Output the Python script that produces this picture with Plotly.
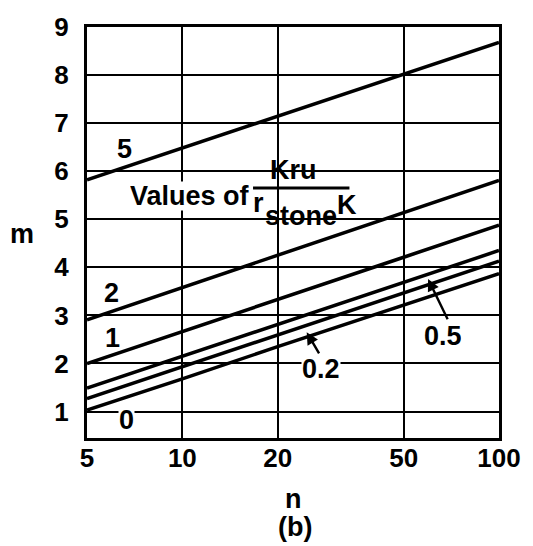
import math
import plotly.graph_objects as go

# ---- data ----
n_vals = [5, 10, 20, 50, 100]
m_k0 = [1.03, 1.68, 2.35, 3.22, 3.87]
m_k02 = [1.27, 1.93, 2.60, 3.47, 4.13]
m_k05 = [1.49, 2.15, 2.82, 3.69, 4.35]
m_k1 = [2.00, 2.66, 3.33, 4.21, 4.88]
m_k2 = [2.91, 3.58, 4.25, 5.13, 5.81]
m_k5 = [5.82, 6.48, 7.14, 8.02, 8.68]

x_ticks = [5, 10, 20, 50, 100]
x_tick_labels = ["5", "10", "20", "50", "100"]
y_ticks = [1, 2, 3, 4, 5, 6, 7, 8, 9]
y_tick_labels = ["1", "2", "3", "4", "5", "6", "7", "8", "9"]

series = [m_k0, m_k02, m_k05, m_k1, m_k2, m_k5]
curve_labels = ["0", "0.2", "0.5", "1", "2", "5"]
# label positions (n, m); True = label breaks a gridline
label_pos = {
    "5": (6.55, 6.47, False),
    "2": (5.97, 3.46, False),
    "1": (6.0, 2.52, False),
    "0": (6.68, 0.82, True),
    "0.2": (27.4, 1.89, True),
    "0.5": (66.4, 2.58, False),
}

FONT = "Liberation Sans, Arial, Helvetica, sans-serif"
fs = 26   # tick labels
fa = 27   # annotation text

fig = go.Figure()
for vals, lab in zip(series, curve_labels):
    fig.add_trace(go.Scatter(x=n_vals, y=vals, mode="lines",
                             line=dict(color="black", width=3.5),
                             name=lab, showlegend=False, hoverinfo="skip"))


def txt(x, y, s, bg=None, size=fa, pad=0, h=None):
    d = dict(x=x, y=y, xref="x", yref="y", text="<b>%s</b>" % s, showarrow=False,
             xanchor="center", yanchor="middle",
             font=dict(size=size, color="black", family=FONT), borderpad=pad)
    if bg:
        d["bgcolor"] = bg
    if h:
        d["height"] = h
    return d


ann = []
for lab, (nx, my, brk) in label_pos.items():
    ann.append(txt(math.log10(nx), my, lab, bg="white" if brk else None, h=22))

# arrows to 0.2 and 0.5 curves
arrows = [((24.7, 2.65), (27.2, 2.18)), ((59.7, 3.76), (69.2, 2.89))]
for (hx, hy), (tx, ty) in arrows:
    ann.append(dict(x=math.log10(hx), y=hy, ax=math.log10(tx), ay=ty,
                    xref="x", yref="y", axref="x", ayref="y", text="",
                    showarrow=True, arrowhead=2, arrowsize=1.0, arrowwidth=2.4,
                    arrowcolor="black"))

# "Values of  Kru / r_stone K"
ann.append(txt(1.024, 5.49, "Values of", bg="white", h=28))
ann.append(txt(1.352, 6.03, "Kru"))
ann.append(txt(1.240, 5.335, "r"))
ann.append(txt(1.375, 5.07, "stone"))
ann.append(txt(1.520, 5.30, "K"))

# axis titles
for xx, yy, s in [(-0.158, 0.497, "m"), (0.50, -0.148, "n"), (0.505, -0.216, "(b)")]:
    ann.append(dict(x=xx, y=yy, xref="paper", yref="paper", text="<b>%s</b>" % s,
                    xanchor="center", yanchor="middle", showarrow=False,
                    font=dict(size=fa, color="black", family=FONT)))

shapes = [
    # white patches behind the fraction block (cover gridlines, stay under curves)
    dict(type="rect", xref="paper", yref="paper", x0=0.434, x1=0.573, y0=0.618, y1=0.689,
         fillcolor="white", line=dict(width=0), layer="between"),
    dict(type="rect", xref="paper", yref="paper", x0=0.389, x1=0.646, y0=0.504, y1=0.618,
         fillcolor="white", line=dict(width=0), layer="between"),
    # fraction bar
    dict(type="line", xref="paper", yref="paper", x0=0.403, x1=0.637, y0=0.608, y1=0.608,
         line=dict(color="black", width=3)),
]

fig.update_layout(
    width=533, height=546,
    margin=dict(l=87, r=22, t=17, b=108),
    paper_bgcolor="white", plot_bgcolor="white",
    annotations=ann, shapes=shapes,
    font=dict(family=FONT, color="black", size=fs),
)
fig.update_xaxes(type="log", range=[math.log10(5), 2],
                 tickvals=x_ticks, ticktext=["<b>%s</b>" % t for t in x_tick_labels],
                 showgrid=True, gridcolor="black", gridwidth=1.8,
                 showline=True, linecolor="black", linewidth=3, mirror=True,
                 ticks="", ticklabelstandoff=-5, zeroline=False,
                 tickfont=dict(size=fs, family=FONT, color="black"))
fig.update_yaxes(range=[0.45, 9.0], tickvals=y_ticks,
                 ticktext=["<b>%s</b>" % t for t in y_tick_labels],
                 showgrid=True, gridcolor="black", gridwidth=1.8,
                 showline=True, linecolor="black", linewidth=3, mirror=True,
                 ticks="", ticklabelstandoff=10, zeroline=False,
                 tickfont=dict(size=fs, family=FONT, color="black"))

fig.write_html("out.html", config={"displayModeBar": False},
               post_script="document.body.style.margin='0px';")
